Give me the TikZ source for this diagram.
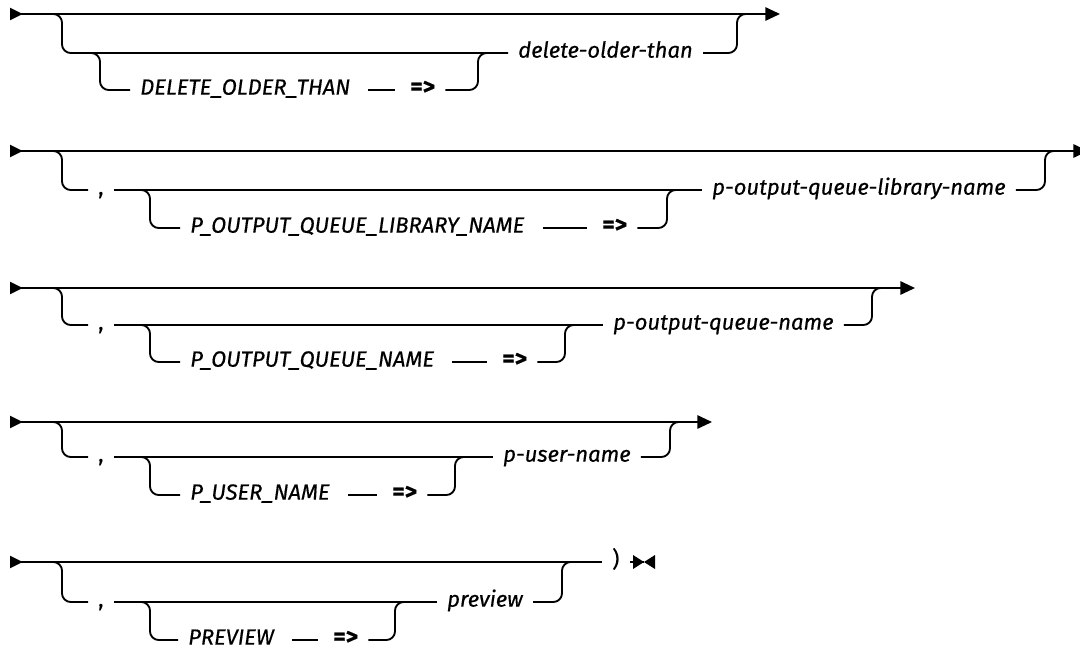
\documentclass[tikz,border=0pt]{standalone}
\usepackage{fontspec}
\setmainfont{Fira Sans}[FakeBold=0.5]
\usetikzlibrary{arrows.meta}

\begin{document}
\begin{tikzpicture}[
x=0.75pt, y=-0.75pt,
rail/.style={line width=1.4pt, rounded corners=6.5pt},
railfull/.style={rail, {Triangle[reversed,length=9.5pt,width=9pt]}-{Triangle[length=11pt,width=10pt]}},
railin/.style={rail, {Triangle[reversed,length=9.5pt,width=9pt]}-},
term/.style={anchor=west, inner xsep=7.5pt, inner ysep=0pt, text height=0.7em, text depth=0pt, font=\fontsize{16.5}{20}\selectfont\itshape},
sym/.style={term, font=\fontsize{16.5}{20}\selectfont},
eqsym/.style={term, font=\fontsize{18}{20}\selectfont\bfseries}
]
\useasboundingbox (0,0) rectangle (1080,649);

% DELETE_OLDER_THAN
\coordinate (s1) at (10,14);
\coordinate (e1) at (780,14);
\coordinate (d1) at (62,53);
\coordinate (i1) at (100,90);
\coordinate (o1) at (478,90);
\coordinate (u1) at (737,53);
\node[term] (key1) at (130,90) {DELETE\_OLDER\_THAN};
\node[eqsym] (eq1) at (400,90) {=>};
\node[term] (val1) at (508,53) {delete-older-than};
\draw[railfull] (s1) -- (e1);
\draw[rail] (s1 -| d1) ++(-10,0) -| (d1) -- (val1.west);
\draw[rail] (d1 -| i1) ++(-10,0) -| (i1) -- (key1.west);
\draw[rail, shorten <=6pt, shorten >=4pt] (key1.east) -- (eq1.west);
\draw[rail] (eq1.east) -| (o1 |- d1) -- ++(10,0);
\draw[rail] (val1.east) -| (u1 |- s1) -- ++(10,0);

% P_OUTPUT_QUEUE_LIBRARY_NAME
\coordinate (s2) at (10,151);
\coordinate (e2) at (1088,151);
\coordinate (d2) at (62,190);
\coordinate (i2) at (150,228);
\coordinate (o2) at (667,228);
\coordinate (u2) at (1045,190);
\node[sym] (c2) at (88,190) {,};
\node[term] (key2) at (180,228) {P\_OUTPUT\_QUEUE\_LIBRARY\_NAME};
\node[eqsym] (eq2) at (592,228) {=>};
\node[term] (val2) at (702,190) {p-output-queue-library-name};
\draw[railfull] (s2) -- (e2);
\draw[rail] (s2 -| d2) ++(-10,0) -| (d2) -- (c2.west);
\draw[rail] (c2.east) -- (val2.west);
\draw[rail] (d2 -| i2) ++(-10,0) -| (i2) -- (key2.west);
\draw[rail, shorten <=6pt, shorten >=4pt] (key2.east) -- (eq2.west);
\draw[rail] (eq2.east) -| (o2 |- d2) -- ++(10,0);
\draw[rail] (val2.east) -| (u2 |- s2) -- ++(10,0);

% P_OUTPUT_QUEUE_NAME
\coordinate (s3) at (10,288);
\coordinate (e3) at (915,288);
\coordinate (d3) at (62,325);
\coordinate (i3) at (150,362);
\coordinate (o3) at (565,362);
\coordinate (u3) at (872,325);
\node[sym] (c3) at (88,325) {,};
\node[term] (key3) at (180,362) {P\_OUTPUT\_QUEUE\_NAME};
\node[eqsym] (eq3) at (492,362) {=>};
\node[term] (val3) at (603,325) {p-output-queue-name};
\draw[railfull] (s3) -- (e3);
\draw[rail] (s3 -| d3) ++(-10,0) -| (d3) -- (c3.west);
\draw[rail] (c3.east) -- (val3.west);
\draw[rail] (d3 -| i3) ++(-10,0) -| (i3) -- (key3.west);
\draw[rail, shorten <=6pt, shorten >=4pt] (key3.east) -- (eq3.west);
\draw[rail] (eq3.east) -| (o3 |- d3) -- ++(10,0);
\draw[rail] (val3.east) -| (u3 |- s3) -- ++(10,0);

% P_USER_NAME
\coordinate (s4) at (10,422);
\coordinate (e4) at (712,422);
\coordinate (d4) at (62,457);
\coordinate (i4) at (150,495);
\coordinate (o4) at (455,495);
\coordinate (u4) at (670,457);
\node[sym] (c4) at (88,457) {,};
\node[term] (key4) at (180,495) {P\_USER\_NAME};
\node[eqsym] (eq4) at (382,495) {=>};
\node[term] (val4) at (493,457) {p-user-name};
\draw[railfull] (s4) -- (e4);
\draw[rail] (s4 -| d4) ++(-10,0) -| (d4) -- (c4.west);
\draw[rail] (c4.east) -- (val4.west);
\draw[rail] (d4 -| i4) ++(-10,0) -| (i4) -- (key4.west);
\draw[rail, shorten <=6pt, shorten >=4pt] (key4.east) -- (eq4.west);
\draw[rail] (eq4.east) -| (o4 |- d4) -- ++(10,0);
\draw[rail] (val4.east) -| (u4 |- s4) -- ++(10,0);

% PREVIEW
\coordinate (s5) at (10,562);
\coordinate (e5) at (644,562);
\coordinate (d5) at (62,602);
\coordinate (i5) at (150,640);
\coordinate (o5) at (395,640);
\coordinate (u5) at (562,602);
\node[sym] (c5) at (88,602) {,};
\node[term] (key5) at (178,640) {PREVIEW};
\node[eqsym] (eq5) at (323,640) {=>};
\node[term] (val5) at (437,602) {preview};
\node[sym] (p5) at (602,562) {)};
\draw[railin] (s5) -- (p5.west);
\draw[rail] (p5.east) -- (e5);
\fill (e5) -- ++(-11,-7) -- ++(0,14) -- cycle;
\fill (e5) -- ++(11,-7) -- ++(0,14) -- cycle;
\draw[rail] (s5 -| d5) ++(-10,0) -| (d5) -- (c5.west);
\draw[rail] (c5.east) -- (val5.west);
\draw[rail] (d5 -| i5) ++(-10,0) -| (i5) -- (key5.west);
\draw[rail, shorten <=6pt, shorten >=4pt] (key5.east) -- (eq5.west);
\draw[rail] (eq5.east) -| (o5 |- d5) -- ++(10,0);
\draw[rail] (val5.east) -| (u5 |- s5) -- ++(10,0);
\end{tikzpicture}
\end{document}
